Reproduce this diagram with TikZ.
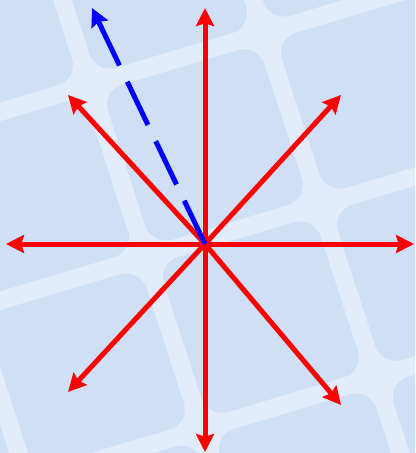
\documentclass[tikz,border=0pt]{standalone}
\usetikzlibrary{arrows.meta}
\definecolor{tilefill}{RGB}{207,223,246}
\definecolor{bandfill}{RGB}{226,236,250}
\definecolor{rayred}{RGB}{255,0,0}
\definecolor{rayblue}{RGB}{0,0,255}
\tikzset{
  ray/.style={->, rayred, line width=3.75pt},
  probe/.style={->, rayblue, line width=3.75pt, dash pattern=on 36pt off 13.5pt},
}
\begin{document}
\begin{tikzpicture}[>={Stealth[length=13.5pt,width=13.5pt,inset=2pt]}, x=.75pt, y=-.75pt]
\useasboundingbox (0,0) rectangle (415,453);
\clip (0,0) rectangle (415,453);
\fill[bandfill] (0,0) rectangle (415,453);
% tiled background, slightly skewed grid
\begin{scope}[shift={(90,85)}, x={(.725pt,.217pt)}, y={(.233pt,-.717pt)}]
\foreach \i in {-2,...,2}
\foreach \j in {-2,...,3}
    \fill[tilefill, rounded corners=16pt] (\i*180+9,\j*180+9) -- (\i*180+171,\j*180+9)
        -- (\i*180+171,\j*180+171) -- (\i*180+9,\j*180+171) -- cycle;
\end{scope}
\coordinate (O) at (205,244);
\coordinate (N) at (205,8);
\coordinate (S) at (205,452);
\coordinate (W) at (6,244);
\coordinate (E) at (414,244);
\coordinate (NW) at (68,95);
\coordinate (NE) at (341,95);
\coordinate (SW) at (68,392);
\coordinate (SE) at (341,405);
\coordinate (P) at (92,8);
\foreach \e in {N,S,W,E,NW,NE,SW,SE}
    \draw[ray] (O)--(\e);
\draw[probe] (O)--(P);
\end{tikzpicture}
\end{document}
